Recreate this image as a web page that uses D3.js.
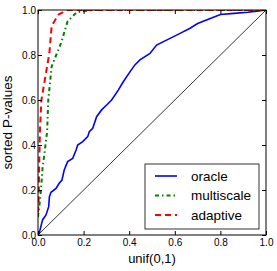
<!DOCTYPE html>
<html>
<head>
<meta charset="utf-8">
<script src="https://cdn.jsdelivr.net/npm/d3@7"></script>
<style>
body { margin: 0; background: #fff; }
svg { display: block; font-family: "Liberation Sans", Arial, sans-serif; }
</style>
</head>
<body>
<div id="chart"></div>
<script>
// curves (uniform quantile vs sorted p-value)
var oracleX = [0, 0.006, 0.02, 0.035, 0.047, 0.05, 0.057, 0.079, 0.093, 0.105, 0.115, 0.13, 0.152, 0.167, 0.174, 0.196, 0.218, 0.225, 0.24, 0.257, 0.279, 0.301, 0.323, 0.352, 0.374, 0.404, 0.425, 0.447, 0.491, 0.52, 0.579, 0.623, 0.667, 0.70, 0.75, 0.80, 0.86, 0.92, 0.96, 1.0];
var oracleY = [0, 0.01, 0.067, 0.089, 0.126, 0.17, 0.19, 0.207, 0.23, 0.244, 0.289, 0.326, 0.34, 0.378, 0.40, 0.415, 0.437, 0.459, 0.474, 0.526, 0.556, 0.578, 0.60, 0.644, 0.681, 0.726, 0.756, 0.778, 0.807, 0.844, 0.874, 0.896, 0.919, 0.94, 0.96, 0.98, 0.985, 0.99, 0.995, 1.0];

var multiX = [0, 0.003, 0.006, 0.013, 0.02, 0.028, 0.04, 0.045, 0.06, 0.08, 0.10, 0.13, 0.17, 0.24, 1.0];
var multiY = [0.08, 0.11, 0.13, 0.2, 0.30, 0.36, 0.46, 0.60, 0.75, 0.80, 0.85, 0.95, 0.99, 1.0, 1.0];

var adaptX = [0, 0.003, 0.005, 0.009, 0.015, 0.03, 0.05, 0.06, 0.09, 0.13, 1.0];
var adaptY = [0.1, 0.16, 0.30, 0.48, 0.60, 0.69, 0.81, 0.93, 0.98, 1.0, 1.0];

var ticks = [0, 0.2, 0.4, 0.6, 0.8, 1.0];
var seriesNames = ["oracle", "multiscale", "adaptive"];
var seriesColors = ["#0000ff", "#008000", "#ff0000"];
var seriesDash = [null, "4,3,1.5,3", "6,4"];

var width = 277, height = 271;
var margin = {top: 10, right: 11, bottom: 36, left: 38};

var svg = d3.select("#chart").append("svg")
	.attr("width", width)
	.attr("height", height);

var x = d3.scaleLinear().domain([0, 1]).range([margin.left, width - margin.right]);
var y = d3.scaleLinear().domain([0, 1]).range([height - margin.bottom, margin.top]);

var line = d3.line()
	.x(function(d){ return x(d[0]); })
	.y(function(d){ return y(d[1]); });

var data = [d3.zip(oracleX, oracleY), d3.zip(multiX, multiY), d3.zip(adaptX, adaptY)];

// clip so thick lines don't spill over the frame
svg.append("clipPath").attr("id", "clip").append("rect")
	.attr("x", x(0)).attr("y", y(1))
	.attr("width", x(1) - x(0)).attr("height", y(0) - y(1));

var plot = svg.append("g").attr("clip-path", "url(#clip)");

// diagonal reference
plot.append("path")
	.datum([[0, 0], [1, 1]])
	.attr("d", line)
	.attr("fill", "none")
	.attr("stroke", "#000")
	.attr("stroke-width", 0.8);

data.forEach(function(d, i){
	plot.append("path")
		.datum(d)
		.attr("d", line)
		.attr("fill", "none")
		.attr("stroke", seriesColors[i])
		.attr("stroke-width", i == 0 ? 1.6 : 2)
		.attr("stroke-dasharray", seriesDash[i]);
});

// axes with inward ticks on all four sides
function fmt(v){ return v.toFixed(1); }

svg.append("g")
	.attr("transform", "translate(0," + y(0) + ")")
	.call(d3.axisBottom(x).tickValues(ticks).tickFormat(fmt).tickSizeInner(-4).tickSizeOuter(0).tickPadding(4));
svg.append("g")
	.attr("transform", "translate(0," + y(1) + ")")
	.call(d3.axisTop(x).tickValues(ticks).tickFormat("").tickSizeInner(-4).tickSizeOuter(0));
svg.append("g")
	.attr("transform", "translate(" + x(0) + ",0)")
	.call(d3.axisLeft(y).tickValues(ticks).tickFormat(fmt).tickSizeInner(-4).tickSizeOuter(0).tickPadding(2));
svg.append("g")
	.attr("transform", "translate(" + x(1) + ",0)")
	.call(d3.axisRight(y).tickValues(ticks).tickFormat("").tickSizeInner(-4).tickSizeOuter(0));

svg.selectAll(".tick text").attr("font-size", 10).attr("font-family", "Liberation Sans, Arial, sans-serif").attr("fill", "#000");
svg.selectAll(".domain").remove();

// frame
svg.append("rect")
	.attr("x", x(0)).attr("y", y(1))
	.attr("width", x(1) - x(0)).attr("height", y(0) - y(1))
	.attr("fill", "none")
	.attr("stroke", "#000")
	.attr("stroke-width", 1);

// axis labels
svg.append("text")
	.attr("x", (x(0) + x(1)) / 2)
	.attr("y", 263)
	.attr("text-anchor", "middle")
	.attr("font-size", 13)
	.text("unif(0,1)");

svg.append("text")
	.attr("transform", "translate(12," + ((y(0) + y(1)) / 2) + ") rotate(-90)")
	.attr("text-anchor", "middle")
	.attr("font-size", 13.5)
	.text("sorted P-values");

// legend
var legend = svg.append("g").attr("transform", "translate(145,164)");
legend.append("rect")
	.attr("width", 114).attr("height", 65)
	.attr("fill", "#fff")
	.attr("stroke", "#000")
	.attr("stroke-width", 0.8);

seriesNames.forEach(function(name, i){
	var ly = 12 + i * 19.5;
	legend.append("line")
		.attr("x1", 10).attr("x2", 32)
		.attr("y1", ly).attr("y2", ly)
		.attr("stroke", seriesColors[i])
		.attr("stroke-width", i == 0 ? 1.6 : 2)
		.attr("stroke-dasharray", seriesDash[i]);
	legend.append("text")
		.attr("x", 46).attr("y", ly + 4.5)
		.attr("font-size", 13.5)
		.text(name);
});
</script>
</body>
</html>
